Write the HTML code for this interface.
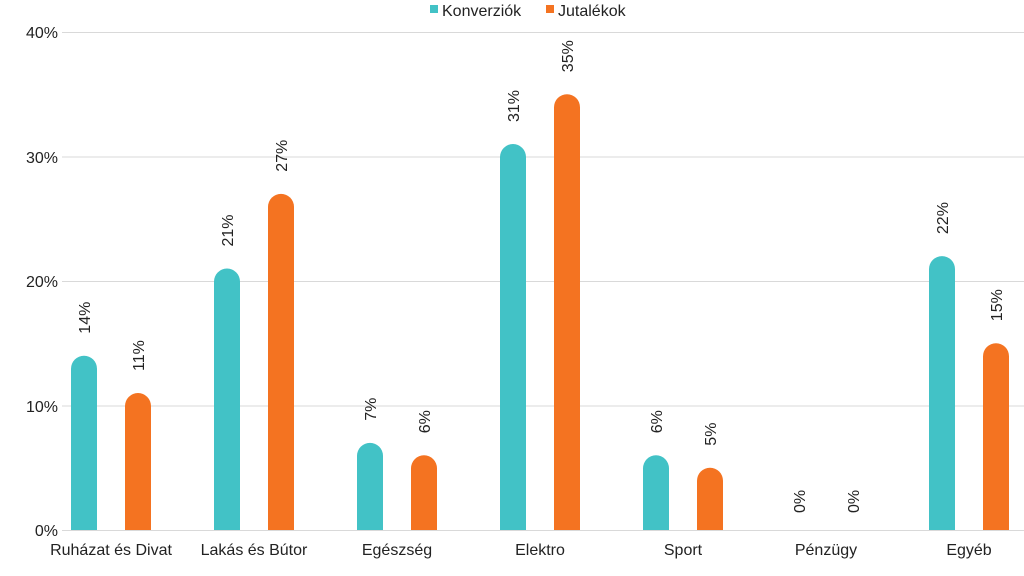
<!DOCTYPE html>
<html><head><meta charset="utf-8"><style>
html,body{margin:0;padding:0;background:#fff;}
svg{display:block;font-family:"Liberation Sans",sans-serif;}
</style></head><body>
<svg width="1024" height="576" viewBox="0 0 1024 576" xmlns="http://www.w3.org/2000/svg">
<g stroke="#d9d9d9" stroke-width="1">
<line x1="62" x2="1024" y1="32.5" y2="32.5"/>
<line x1="62" x2="1024" y1="157" y2="157"/>
<line x1="62" x2="1024" y1="281.5" y2="281.5"/>
<line x1="62" x2="1024" y1="406" y2="406"/>
<line x1="62" x2="1024" y1="530.5" y2="530.5"/>
</g>
<g font-size="16" fill="#222" text-anchor="end">
<text x="58" y="38">40%</text>
<text x="58" y="163">30%</text>
<text x="58" y="287">20%</text>
<text x="58" y="412">10%</text>
<text x="58" y="536">0%</text>
</g>
<rect x="430" y="5" width="8" height="8" fill="#42C2C6"/>
<text x="442" y="16" font-size="16" fill="#222">Konverziók</text>
<rect x="546" y="5" width="8" height="8" fill="#F47321"/>
<text x="558" y="16" font-size="16" fill="#222">Jutalékok</text>
<g fill="#42C2C6">
<path d="M71 530V368.7A13 13 0 0 1 97 368.7V530Z"/>
<path d="M214 530V281.55A13 13 0 0 1 240 281.55V530Z"/>
<path d="M357 530V455.85A13 13 0 0 1 383 455.85V530Z"/>
<path d="M500 530V157.05A13 13 0 0 1 526 157.05V530Z"/>
<path d="M643 530V468.3A13 13 0 0 1 669 468.3V530Z"/>
<path d="M929 530V269.1A13 13 0 0 1 955 269.1V530Z"/>
</g>
<g fill="#F47321">
<path d="M125 530V406.05A13 13 0 0 1 151 406.05V530Z"/>
<path d="M268 530V206.85A13 13 0 0 1 294 206.85V530Z"/>
<path d="M411 530V468.3A13 13 0 0 1 437 468.3V530Z"/>
<path d="M554 530V107.25A13 13 0 0 1 580 107.25V530Z"/>
<path d="M697 530V480.75A13 13 0 0 1 723 480.75V530Z"/>
<path d="M983 530V356.25A13 13 0 0 1 1009 356.25V530Z"/>
</g>
<g font-size="16" fill="#222">
<text transform="translate(90,333.7) rotate(-90)">14%</text>
<text transform="translate(233,246.5) rotate(-90)">21%</text>
<text transform="translate(376,420.8) rotate(-90)">7%</text>
<text transform="translate(519,122) rotate(-90)">31%</text>
<text transform="translate(662,433.3) rotate(-90)">6%</text>
<text transform="translate(805,513) rotate(-90)">0%</text>
<text transform="translate(948,234.1) rotate(-90)">22%</text>
<text transform="translate(144,371) rotate(-90)">11%</text>
<text transform="translate(287,171.8) rotate(-90)">27%</text>
<text transform="translate(430,433.3) rotate(-90)">6%</text>
<text transform="translate(573,72.2) rotate(-90)">35%</text>
<text transform="translate(716,445.7) rotate(-90)">5%</text>
<text transform="translate(859,513) rotate(-90)">0%</text>
<text transform="translate(1002,321.2) rotate(-90)">15%</text>
</g>
<g font-size="16" fill="#222" text-anchor="middle">
<text x="111" y="555">Ruházat és Divat</text>
<text x="254" y="555">Lakás és Bútor</text>
<text x="397" y="555">Egészség</text>
<text x="540" y="555">Elektro</text>
<text x="683" y="555">Sport</text>
<text x="826" y="555">Pénzügy</text>
<text x="969" y="555">Egyéb</text>
</g>
</svg>
</body></html>
